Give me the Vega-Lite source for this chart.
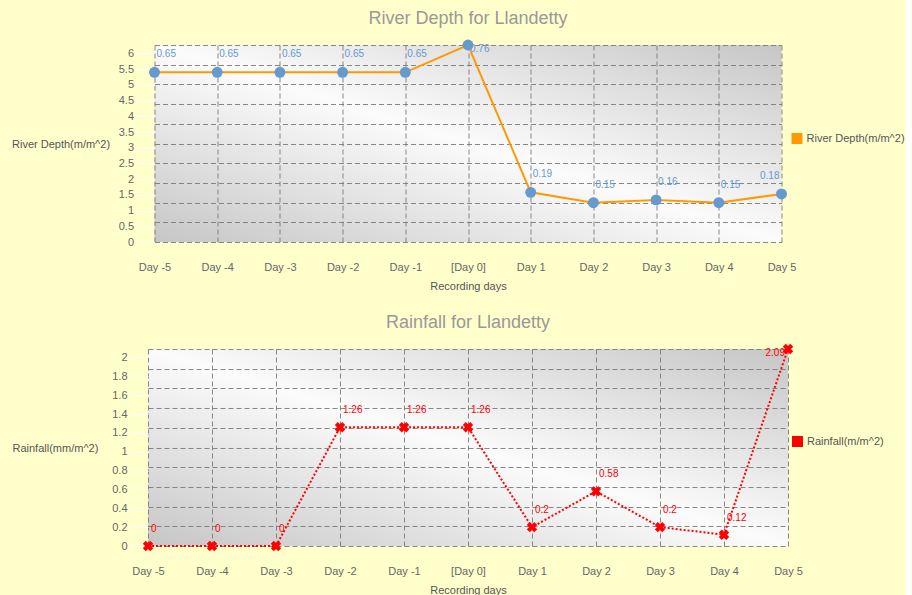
{
  "$schema": "https://vega.github.io/schema/vega-lite/v6.json",
  "background": "#ffffcc",
  "padding": {"left": 11, "top": 9, "right": 0, "bottom": 0},
  "spacing": 107,
  "center": true,
  "bounds": "flush",
  "datasets": {
    "d": [
      {"day": "Day -5", "depth": 5.4, "depthLabel": "0.65", "rain": 0},
      {"day": "Day -4", "depth": 5.4, "depthLabel": "0.65", "rain": 0},
      {"day": "Day -3", "depth": 5.4, "depthLabel": "0.65", "rain": 0},
      {"day": "Day -2", "depth": 5.4, "depthLabel": "0.65", "rain": 1.26},
      {"day": "Day -1", "depth": 5.4, "depthLabel": "0.65", "rain": 1.26},
      {"day": "[Day 0]", "depth": 6.27, "depthLabel": "0.76", "rain": 1.26},
      {"day": "Day 1", "depth": 1.58, "depthLabel": "0.19", "rain": 0.2},
      {"day": "Day 2", "depth": 1.25, "depthLabel": "0.15", "rain": 0.58},
      {"day": "Day 3", "depth": 1.34, "depthLabel": "0.16", "rain": 0.2},
      {"day": "Day 4", "depth": 1.25, "depthLabel": "0.15", "rain": 0.12},
      {"day": "Day 5", "depth": 1.53, "depthLabel": "0.18", "rain": 2.09}
    ]
  },
  "config": {
    "font": "Liberation Sans",
    "view": {
      "stroke": null,
      "fill": {
        "gradient": "linear", "x1": 0, "y1": 1, "x2": 1, "y2": 0,
        "stops": [
          {"offset": 0, "color": "#c6c6c6"},
          {"offset": 0.5, "color": "#fbfbfb"},
          {"offset": 1, "color": "#c6c6c6"}
        ]
      }
    },
    "axis": {
      "labelFont": "Liberation Sans", "labelFontSize": 11, "labelColor": "#666666",
      "titleFont": "Liberation Sans", "titleFontSize": 11, "titleFontWeight": "normal", "titleColor": "#555555",
      "gridColor": "#7a7a7a", "gridDash": [5, 3], "gridWidth": 1, "gridOpacity": 0.9
    },
    "legend": {
      "labelFont": "Liberation Sans", "labelFontSize": 11, "labelColor": "#555555"
    },
    "title": {"font": "Liberation Sans", "fontSize": 18, "fontWeight": "normal", "color": "#999999", "anchor": "middle"}
  },
  "resolve": {"scale": {"color": "independent"}, "legend": {"color": "independent"}},
  "vconcat": [
    {
      "title": {"text": "River Depth for Llandetty", "offset": 12},
      "width": 627, "height": 197,
      "data": {"name": "d"},
      "encoding": {
        "x": {
          "field": "day", "type": "ordinal",
          "scale": {"type": "point", "padding": 0, "domain": ["Day -5", "Day -4", "Day -3", "Day -2", "Day -1", "[Day 0]", "Day 1", "Day 2", "Day 3", "Day 4", "Day 5"]},
          "axis": {"title": "Recording days", "labelAngle": 0, "ticks": false, "domain": false, "grid": true, "labelPadding": 19, "titlePadding": 8}
        }
      },
      "layer": [
        {
          "mark": {"type": "line", "strokeWidth": 2},
          "encoding": {
            "y": {
              "field": "depth", "type": "quantitative",
              "scale": {"domain": [0, 6.27], "nice": false, "zero": true},
              "axis": {"orient": "left", "labels": false, "ticks": false, "domain": false, "title": null, "grid": true,
                       "values": [0, 0.627, 1.254, 1.881, 2.508, 3.135, 3.762, 4.389, 5.016, 5.643, 6.27]}
            },
            "color": {
              "datum": "River Depth(m/m^2)", "type": "nominal",
              "scale": {"range": ["#ff9900"]},
              "legend": {"title": null, "orient": "none", "legendX": 637, "legendY": 88, "symbolType": "square", "symbolSize": 121, "symbolFillColor": "#ff9900", "symbolStrokeWidth": 0}
            }
          }
        },
        {
          "mark": {"type": "point", "filled": true, "color": "#6699cc", "size": 120, "opacity": 1},
          "encoding": {
            "y": {
              "field": "depth", "type": "quantitative",
              "axis": {"orient": "left", "grid": false, "domain": false, "tickColor": "#ffffff", "tickSize": 17, "labelPadding": 4, "format": "~g",
                       "values": [0, 0.5, 1, 1.5, 2, 2.5, 3, 3.5, 4, 4.5, 5, 5.5, 6],
                       "title": "River Depth(m/m^2)", "titleAngle": 0, "titleAlign": "left", "titleBaseline": "middle", "titleX": -143, "titleY": 99}
            }
          }
        },
        {
          "transform": [{"filter": "datum.day != '[Day 0]' && datum.day != 'Day 5'"}],
          "mark": {"type": "text", "align": "left", "baseline": "middle", "dx": 2, "dy": -18, "fontSize": 10, "color": "#6699cc"},
          "encoding": {"y": {"field": "depth", "type": "quantitative", "axis": null}, "text": {"field": "depthLabel", "type": "nominal"}}
        },
        {
          "transform": [{"filter": "datum.day == '[Day 0]'"}],
          "mark": {"type": "text", "align": "left", "baseline": "middle", "dx": 2, "dy": 4, "fontSize": 10, "color": "#6699cc"},
          "encoding": {"y": {"field": "depth", "type": "quantitative", "axis": null}, "text": {"field": "depthLabel", "type": "nominal"}}
        },
        {
          "transform": [{"filter": "datum.day == 'Day 5'"}],
          "mark": {"type": "text", "align": "right", "baseline": "middle", "dx": -2, "dy": -18, "fontSize": 10, "color": "#6699cc"},
          "encoding": {"y": {"field": "depth", "type": "quantitative", "axis": null}, "text": {"field": "depthLabel", "type": "nominal"}}
        }
      ],
      "resolve": {"axis": {"y": "independent"}}
    },
    {
      "title": {"text": "Rainfall for Llandetty", "offset": 12},
      "width": 640, "height": 197,
      "data": {"name": "d"},
      "encoding": {
        "x": {
          "field": "day", "type": "ordinal",
          "scale": {"type": "point", "padding": 0, "domain": ["Day -5", "Day -4", "Day -3", "Day -2", "Day -1", "[Day 0]", "Day 1", "Day 2", "Day 3", "Day 4", "Day 5"]},
          "axis": {"title": "Recording days", "labelAngle": 0, "ticks": false, "domain": false, "grid": true, "labelPadding": 19, "titlePadding": 8}
        }
      },
      "layer": [
        {
          "mark": {"type": "line", "strokeWidth": 2, "strokeDash": [2, 2]},
          "encoding": {
            "y": {
              "field": "rain", "type": "quantitative",
              "scale": {"domain": [0, 2.09], "nice": false, "zero": true},
              "axis": {"orient": "left", "labels": false, "ticks": false, "domain": false, "title": null, "grid": true,
                       "values": [0, 0.209, 0.418, 0.627, 0.836, 1.045, 1.254, 1.463, 1.672, 1.881, 2.09]}
            },
            "color": {
              "datum": "Rainfall(m/m^2)", "type": "nominal",
              "scale": {"range": ["#ff0000"]},
              "legend": {"title": null, "orient": "none", "legendX": 644, "legendY": 87, "symbolType": "square", "symbolSize": 121, "symbolFillColor": "#ff0000", "symbolStrokeWidth": 0}
            }
          }
        },
        {
          "mark": {"type": "point", "shape": "cross", "angle": 45, "filled": true, "color": "#ff0000", "size": 110, "opacity": 1},
          "encoding": {
            "y": {
              "field": "rain", "type": "quantitative",
              "axis": {"orient": "left", "grid": false, "domain": false, "tickColor": "#ffffff", "tickSize": 17, "labelPadding": 4, "format": "~g",
                       "values": [0, 0.2, 0.4, 0.6, 0.8, 1, 1.2, 1.4, 1.6, 1.8, 2],
                       "title": "Rainfall(mm/m^2)", "titleAngle": 0, "titleAlign": "left", "titleBaseline": "middle", "titleX": -136, "titleY": 99}
            }
          }
        },
        {
          "transform": [{"filter": "datum.day != 'Day 5'"}],
          "mark": {"type": "text", "align": "left", "baseline": "middle", "dx": 3, "dy": -17, "fontSize": 10, "color": "#ff0000"},
          "encoding": {"y": {"field": "rain", "type": "quantitative", "axis": null}, "text": {"field": "rain", "type": "nominal"}}
        },
        {
          "transform": [{"filter": "datum.day == 'Day 5'"}],
          "mark": {"type": "text", "align": "right", "baseline": "middle", "dx": -3, "dy": 4, "fontSize": 10, "color": "#ff0000"},
          "encoding": {"y": {"field": "rain", "type": "quantitative", "axis": null}, "text": {"field": "rain", "type": "nominal"}}
        }
      ],
      "resolve": {"axis": {"y": "independent"}}
    }
  ]
}
